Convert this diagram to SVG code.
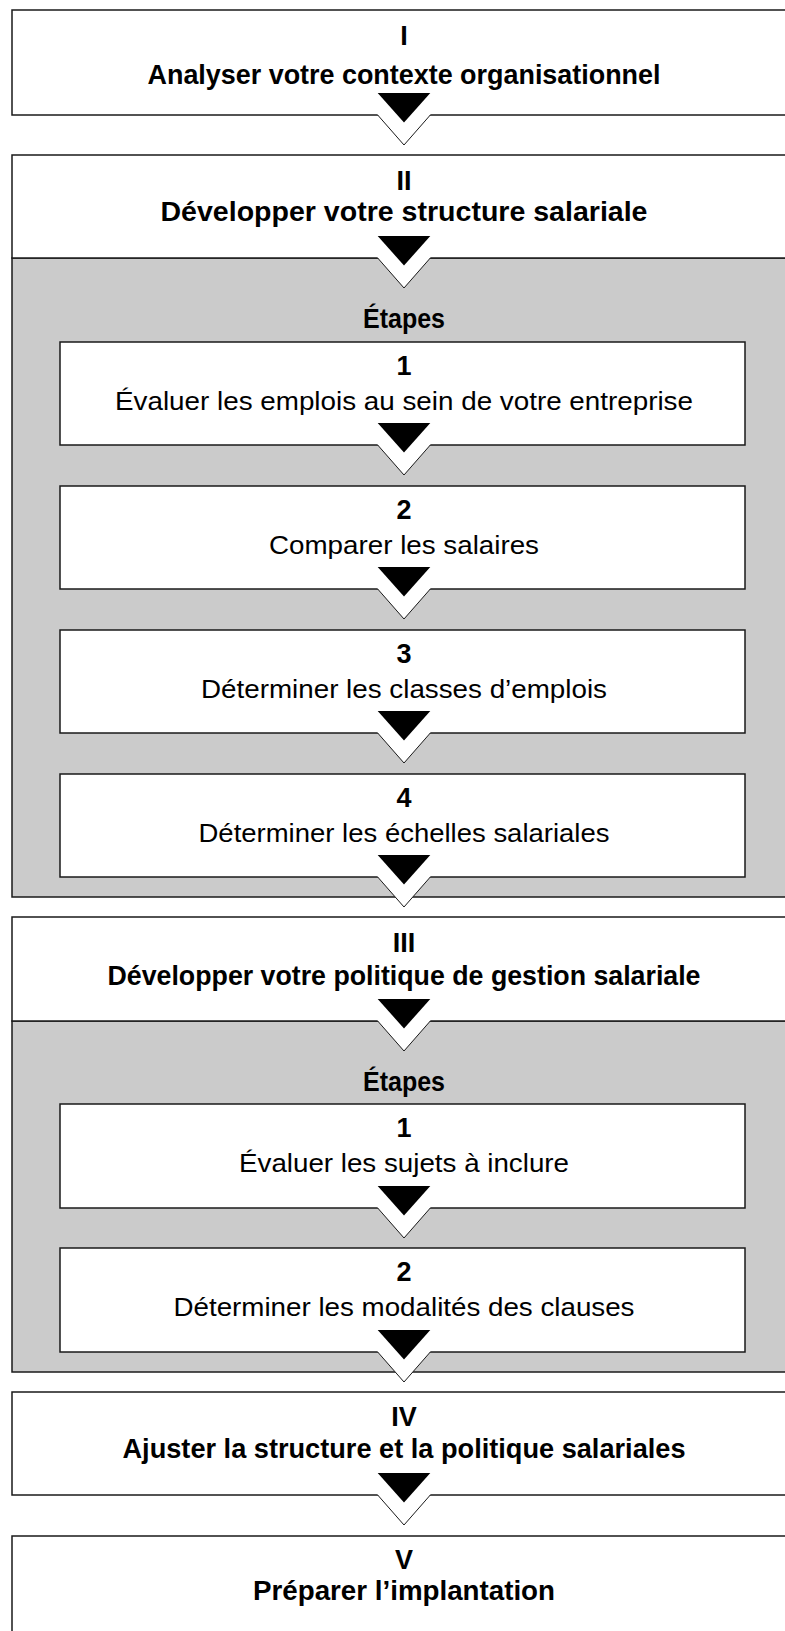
<svg xmlns="http://www.w3.org/2000/svg" xmlns:xlink="http://www.w3.org/1999/xlink" width="785" height="1631" viewBox="0 0 785 1631">
<style>
.box{fill:#fff;stroke:#1a1a1a;stroke-width:1.5}
.gray{fill:#cbcbcb;stroke:#1a1a1a;stroke-width:1.5}
.b{font-family:"Liberation Sans",Arial,sans-serif;font-weight:bold;font-size:27px;fill:#000;text-anchor:middle}
.r{font-family:"Liberation Sans",Arial,sans-serif;font-size:26px;fill:#000;text-anchor:middle}
.tri{fill:#000}
.vf{fill:#fff;stroke:none}
.vl{fill:none;stroke:#1a1a1a;stroke-width:1}
</style>
<defs>
<g id="arrow">
<polygon class="vf" points="-26.3,-1 26.3,-1 26.3,0 0,30 -26.3,0"/>
<polyline class="vl" points="-26.3,0 0,30 26.3,0"/>
<polygon class="tri" points="-26.3,-22 26.3,-22 0,7.5"/>
</g>
</defs>

<g id="step-I">
<rect class="box" x="12" y="10" width="790" height="105"/>
<text class="b" x="404" y="45">I</text>
<text class="b" x="404" y="84" textLength="513" lengthAdjust="spacingAndGlyphs">Analyser votre contexte organisationnel</text>
</g>

<g id="step-II">
<rect class="gray" x="12" y="258" width="790" height="639"/>
<rect class="box" x="12" y="155" width="790" height="103"/>
<text class="b" x="404" y="190">II</text>
<text class="b" x="404" y="221" textLength="487" lengthAdjust="spacingAndGlyphs">Développer votre structure salariale</text>
<text class="b" x="404" y="328" textLength="82" lengthAdjust="spacingAndGlyphs">Étapes</text>
</g>

<g id="step-II-1">
<rect class="box" x="60" y="342" width="685" height="103"/>
<text class="b" x="404" y="375">1</text>
<text class="r" x="404" y="410" textLength="578" lengthAdjust="spacingAndGlyphs">Évaluer les emplois au sein de votre entreprise</text>
</g>
<g id="step-II-2">
<rect class="box" x="60" y="486" width="685" height="103"/>
<text class="b" x="404" y="519">2</text>
<text class="r" x="404" y="554" textLength="270" lengthAdjust="spacingAndGlyphs">Comparer les salaires</text>
</g>
<g id="step-II-3">
<rect class="box" x="60" y="630" width="685" height="103"/>
<text class="b" x="404" y="663">3</text>
<text class="r" x="404" y="698" textLength="406" lengthAdjust="spacingAndGlyphs">Déterminer les classes d’emplois</text>
</g>
<g id="step-II-4">
<rect class="box" x="60" y="774" width="685" height="103"/>
<text class="b" x="404" y="807">4</text>
<text class="r" x="404" y="842" textLength="411" lengthAdjust="spacingAndGlyphs">Déterminer les échelles salariales</text>
</g>

<g id="step-III">
<rect class="gray" x="12" y="1021" width="790" height="351"/>
<rect class="box" x="12" y="917" width="790" height="104"/>
<text class="b" x="404" y="952">III</text>
<text class="b" x="404" y="985" textLength="593" lengthAdjust="spacingAndGlyphs">Développer votre politique de gestion salariale</text>
<text class="b" x="404" y="1091" textLength="82" lengthAdjust="spacingAndGlyphs">Étapes</text>
</g>

<g id="step-III-1">
<rect class="box" x="60" y="1104" width="685" height="104"/>
<text class="b" x="404" y="1137">1</text>
<text class="r" x="404" y="1172" textLength="330" lengthAdjust="spacingAndGlyphs">Évaluer les sujets à inclure</text>
</g>
<g id="step-III-2">
<rect class="box" x="60" y="1248" width="685" height="104"/>
<text class="b" x="404" y="1281">2</text>
<text class="r" x="404" y="1316" textLength="461" lengthAdjust="spacingAndGlyphs">Déterminer les modalités des clauses</text>
</g>

<g id="step-IV">
<rect class="box" x="12" y="1392" width="790" height="103"/>
<text class="b" x="404" y="1426">IV</text>
<text class="b" x="404" y="1458" textLength="563" lengthAdjust="spacingAndGlyphs">Ajuster la structure et la politique salariales</text>
</g>

<g id="step-V">
<rect class="box" x="12" y="1536" width="790" height="120"/>
<text class="b" x="404" y="1569">V</text>
<text class="b" x="404" y="1600" textLength="302" lengthAdjust="spacingAndGlyphs">Préparer l’implantation</text>
</g>

<g id="connectors">
<use xlink:href="#arrow" x="404" y="115"/>
<use xlink:href="#arrow" x="404" y="258"/>
<use xlink:href="#arrow" x="404" y="445"/>
<use xlink:href="#arrow" x="404" y="589"/>
<use xlink:href="#arrow" x="404" y="733"/>
<use xlink:href="#arrow" x="404" y="877"/>
<use xlink:href="#arrow" x="404" y="1021"/>
<use xlink:href="#arrow" x="404" y="1208"/>
<use xlink:href="#arrow" x="404" y="1352"/>
<use xlink:href="#arrow" x="404" y="1495"/>
</g>
</svg>
